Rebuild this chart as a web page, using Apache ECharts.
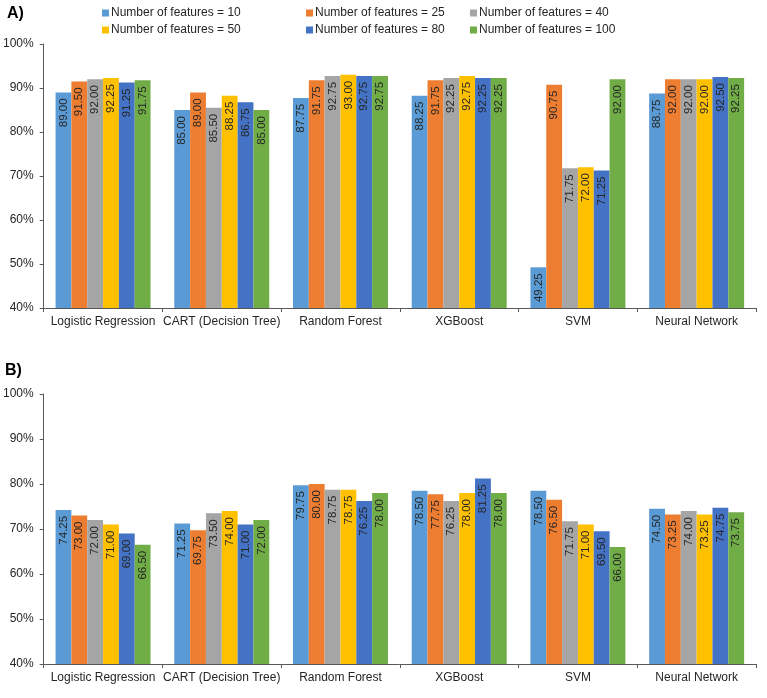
<!DOCTYPE html>
<html>
<head>
<meta charset="utf-8">
<script src="https://cdn.jsdelivr.net/npm/echarts@6/dist/echarts.min.js"></script>
<style>html,body{margin:0;padding:0;background:#fff}#c{width:767px;height:698px}</style>
</head>
<body>
<div id="c"></div>
<script>
const categories = ['Logistic Regression', 'CART (Decision Tree)', 'Random Forest', 'XGBoost', 'SVM', 'Neural Network'];
const seriesNames = ['Number of features = 10', 'Number of features = 25', 'Number of features = 40', 'Number of features = 50', 'Number of features = 80', 'Number of features = 100'];
const colors = ['#5B9BD5', '#ED7D31', '#A5A5A5', '#FFC000', '#4472C4', '#70AD47'];
const yTicks = [40, 50, 60, 70, 80, 90, 100];

// Panel A values, one array per feature count (order follows categories)
const A_f10  = [89.00, 85.00, 87.75, 88.25, 49.25, 88.75];
const A_f25  = [91.50, 89.00, 91.75, 91.75, 90.75, 92.00];
const A_f40  = [92.00, 85.50, 92.75, 92.25, 71.75, 92.00];
const A_f50  = [92.25, 88.25, 93.00, 92.75, 72.00, 92.00];
const A_f80  = [91.25, 86.75, 92.75, 92.25, 71.25, 92.50];
const A_f100 = [91.75, 85.00, 92.75, 92.25, 92.00, 92.25];

// Panel B values
const B_f10  = [74.25, 71.25, 79.75, 78.50, 78.50, 74.50];
const B_f25  = [73.00, 69.75, 80.00, 77.75, 76.50, 73.25];
const B_f40  = [72.00, 73.50, 78.75, 76.25, 71.75, 74.00];
const B_f50  = [71.00, 74.00, 78.75, 78.00, 71.00, 73.25];
const B_f80  = [69.00, 71.00, 76.25, 81.25, 69.50, 74.75];
const B_f100 = [66.50, 72.00, 78.00, 78.00, 66.00, 73.75];

const panelA = [A_f10, A_f25, A_f40, A_f50, A_f80, A_f100];
const panelB = [B_f10, B_f25, B_f40, B_f50, B_f80, B_f100];

const FONT = 'Liberation Sans, Arial, sans-serif';
const TXT = '#262626';
const AX = '#595959';

const chart = echarts.init(document.getElementById('c'), null, {renderer: 'canvas'});

function xAxis(gi) {
  return {
    type: 'category', gridIndex: gi, data: categories, boundaryGap: true,
    axisLine: {show: true, lineStyle: {color: AX, width: 1}},
    axisTick: {show: true, alignWithLabel: false, length: 4, lineStyle: {color: AX}},
    axisLabel: {color: TXT, fontFamily: FONT, fontSize: 12, margin: 8, interval: 0}
  };
}
function yAxis(gi) {
  return {
    type: 'value', gridIndex: gi, min: yTicks[0], max: yTicks[yTicks.length - 1], interval: 10,
    axisLine: {show: true, lineStyle: {color: AX, width: 1}},
    axisTick: {show: true, length: 4, lineStyle: {color: AX}},
    splitLine: {show: false},
    axisLabel: {color: TXT, fontFamily: FONT, fontSize: 12, margin: 10, formatter: '{value}%'}
  };
}
function makeSeries(arrs, gi) {
  return arrs.map((d, i) => ({
    name: seriesNames[i], type: 'bar', xAxisIndex: gi, yAxisIndex: gi,
    data: d, barGap: '0%', barCategoryGap: '20%',
    itemStyle: {color: colors[i]},
    label: {
      show: true, position: 'insideTop', rotate: 90, align: 'right', verticalAlign: 'middle',
      distance: 6, color: TXT, fontFamily: FONT, fontSize: 11.5,
      formatter: p => p.value.toFixed(2)
    },
    animation: false
  }));
}

const legendPos = [[102, 7], [306, 7], [470, 7], [102, 24], [306, 24], [470, 24]];
const legends = seriesNames.map((n, i) => ({
  data: [n], left: legendPos[i][0], top: legendPos[i][1], padding: 0,
  icon: 'rect', itemWidth: 7, itemHeight: 7, itemGap: 3,
  textStyle: {color: TXT, fontFamily: FONT, fontSize: 12, padding: [0, 0, 0, -3]},
  selectedMode: false
}));

chart.setOption({
  backgroundColor: '#fff',
  animation: false,
  title: [
    {text: 'A)', left: 7, top: 6, padding: 0, textStyle: {fontFamily: FONT, fontWeight: 'bold', fontSize: 16, color: '#000'}},
    {text: 'B)', left: 5, top: 363, padding: 0, textStyle: {fontFamily: FONT, fontWeight: 'bold', fontSize: 16, color: '#000'}}
  ],
  legend: legends,
  grid: [
    {left: 42, right: 11, top: 44, height: 264},
    {left: 42, right: 11, top: 394, height: 270}
  ],
  xAxis: [xAxis(0), xAxis(1)],
  yAxis: [yAxis(0), yAxis(1)],
  series: makeSeries(panelA, 0).concat(makeSeries(panelB, 1))
});
</script>
</body>
</html>
